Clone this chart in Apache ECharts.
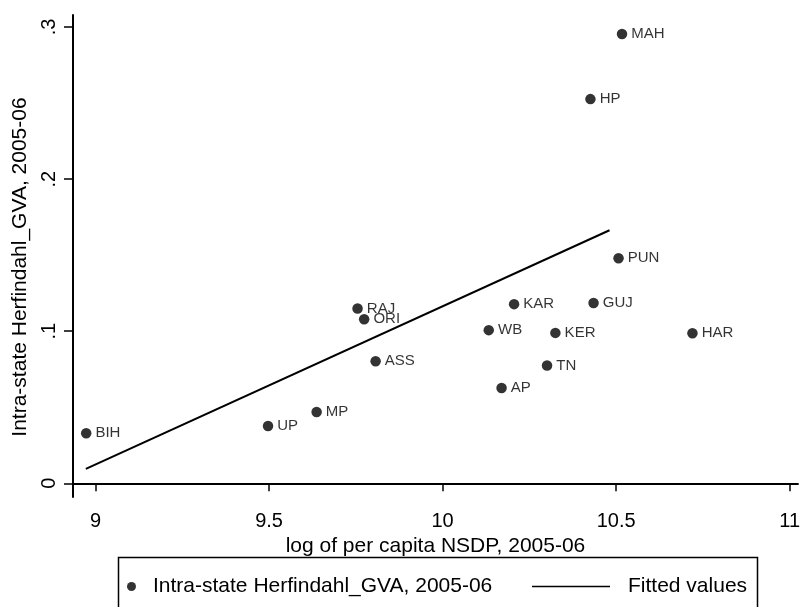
<!DOCTYPE html>
<html>
<head>
<meta charset="utf-8">
<script src="https://cdn.jsdelivr.net/npm/echarts@6/dist/echarts.min.js"></script>
<style>html,body{margin:0;padding:0;background:#fff}#chart{width:803px;height:607px}</style>
</head>
<body>
<div id="chart"></div>
<script>
const states = ['BIH','UP','MP','ASS','RAJ','ORI','AP','WB','KAR','TN','KER','GUJ','HP','PUN','MAH','HAR'];
const logNSDP = [8.973, 9.497, 9.637, 9.807, 9.755, 9.774, 10.170, 10.133, 10.206, 10.301, 10.325, 10.435, 10.426, 10.507, 10.517, 10.720];
const herfindahl = [0.0329, 0.0377, 0.0469, 0.0803, 0.1149, 0.1079, 0.0627, 0.1007, 0.1178, 0.0774, 0.0989, 0.1186, 0.2526, 0.148, 0.2954, 0.0987];
const fitX = [8.972, 10.481];
const fitY = [0.0095, 0.1664];
const xTicks = [9, 9.5, 10, 10.5, 11];
const yTicks = [0, 0.1, 0.2, 0.3];
const yTickLabels = ['0', '.1', '.2', '.3'];
const seriesNames = ['Intra-state Herfindahl_GVA, 2005-06', 'Fitted values'];
const xTitle = 'log of per capita NSDP, 2005-06';
const yTitle = 'Intra-state Herfindahl_GVA, 2005-06';

const FONT = 'Liberation Sans, Arial, sans-serif';
const chart = echarts.init(document.getElementById('chart'));
chart.setOption({
  animation: false,
  backgroundColor: '#fff',
  textStyle: { fontFamily: FONT, color: '#000' },
  grid: { left: 73, right: 3, top: 15, bottom: 110, containLabel: false },
  xAxis: {
    type: 'value', min: 8.935, max: 11.024,
    name: xTitle, nameLocation: 'middle', nameGap: 38,
    nameTextStyle: { fontSize: 21, color: '#000', fontFamily: FONT },
    axisLine: { show: true, lineStyle: { color: '#000', width: 2 } },
    axisTick: { show: true, length: 8, lineStyle: { color: '#000', width: 1.5 }, customValues: xTicks },
    axisLabel: { fontSize: 20, color: '#000', margin: 14, fontFamily: FONT, customValues: xTicks,
      formatter: v => String(v) },
    splitLine: { show: false }
  },
  yAxis: {
    type: 'value', min: -0.009, max: 0.3079,
    name: yTitle, nameLocation: 'middle', nameGap: 38,
    nameTextStyle: { fontSize: 21, color: '#000', fontFamily: FONT, padding: [0, 22, 0, 0] },
    axisLine: { show: true, lineStyle: { color: '#000', width: 2 } },
    axisTick: { show: true, length: 9, lineStyle: { color: '#000', width: 1.5 }, customValues: yTicks },
    axisLabel: { fontSize: 20, color: '#000', margin: 14, rotate: 90, fontFamily: FONT, customValues: yTicks,
      formatter: v => { const i = yTicks.findIndex(t => Math.abs(t - v) < 1e-9); return i >= 0 ? yTickLabels[i] : ''; } },
    splitLine: { show: false }
  },
  legend: [
    { data: [seriesNames[0]], left: 122, top: 571, icon: 'circle', itemWidth: 9, itemHeight: 9,
      textStyle: { fontSize: 21, color: '#000', fontFamily: FONT, padding: [0, 0, 0, 12] } },
    { data: [{ name: seriesNames[1], icon: 'rect' }], left: 527, top: 571, itemWidth: 78, itemHeight: 1.5,
      itemStyle: { color: '#000' },
      textStyle: { fontSize: 21, color: '#000', fontFamily: FONT, padding: [0, 0, 0, 13] } }
  ],
  graphic: [
    { type: 'rect', silent: true, shape: { x: 118.5, y: 557.5, width: 639, height: 70 },
      style: { fill: 'none', stroke: '#000', lineWidth: 1.5 } }
  ],
  series: [
    {
      name: seriesNames[0], type: 'scatter', symbol: 'circle', symbolSize: 10.5,
      itemStyle: { color: '#000' },
      data: logNSDP.map((x, i) => ({ value: [x, herfindahl[i]], name: states[i] })),
      label: { show: true, position: 'right', distance: 4, formatter: p => p.name,
        fontSize: 15, color: '#000', fontFamily: FONT },
      z: 3
    },
    {
      name: seriesNames[1], type: 'line', symbol: 'none', showSymbol: false,
      lineStyle: { color: '#000', width: 2 },
      itemStyle: { color: '#000' },
      data: fitX.map((x, i) => [x, fitY[i]]),
      z: 2
    }
  ]
});
</script>
</body>
</html>
